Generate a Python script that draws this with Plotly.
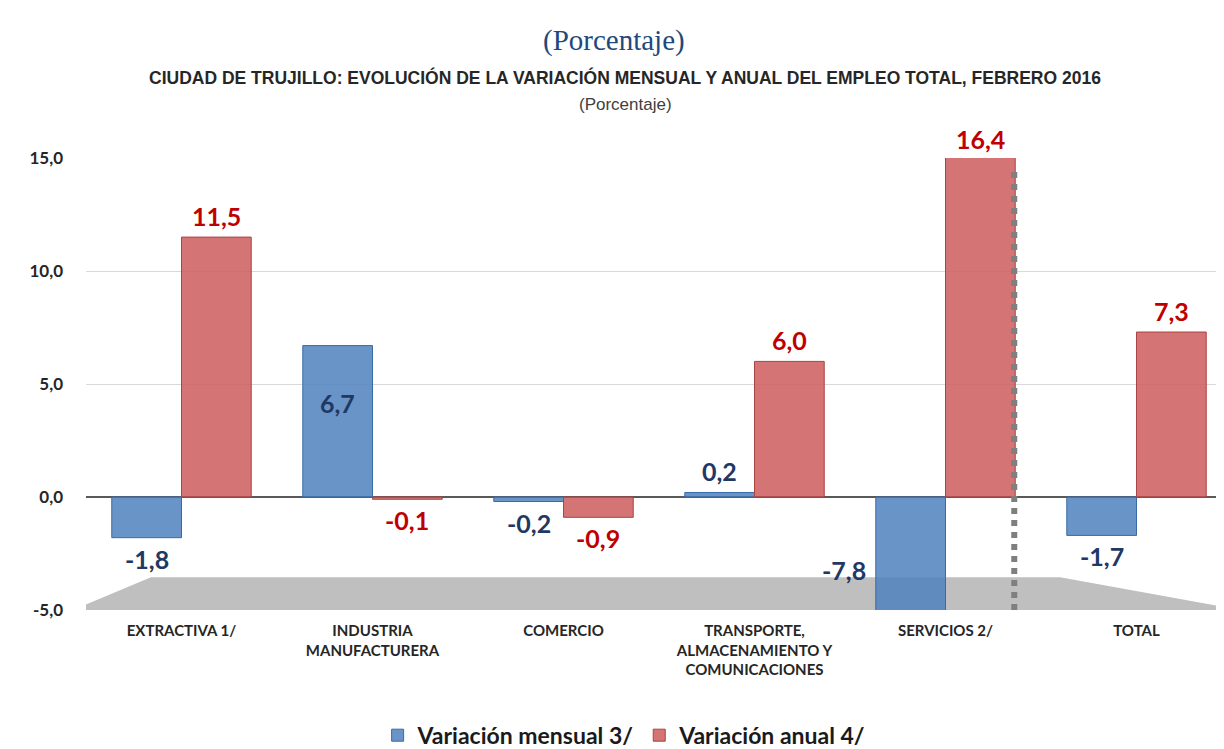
import plotly.graph_objects as go

categories = ["EXTRACTIVA 1/", "INDUSTRIA<br>MANUFACTURERA", "COMERCIO",
              "TRANSPORTE,<br>ALMACENAMIENTO Y<br>COMUNICACIONES", "SERVICIOS 2/", "TOTAL"]
mensual = [-1.8, 6.7, -0.2, 0.2, -7.8, -1.7]
anual = [11.5, -0.1, -0.9, 6.0, 16.4, 7.3]
y_ticks = [-5, 0, 5, 10, 15]

Y_MIN, Y_MAX = -5, 15
BARGAP = 0.27


def fmt(v):
    return f"{v:.1f}".replace(".", ",")


x = list(range(len(categories)))
half = (1 - BARGAP) / 4  # centre offset of each bar in a group of two

fig = go.Figure()
fig.add_trace(go.Bar(
    x=x, y=mensual, name="Variación mensual 3/",
    marker=dict(color="rgba(79,129,189,0.85)", line=dict(color="#3A6AA5", width=1)),
))
fig.add_trace(go.Bar(
    x=x, y=anual, name="Variación anual 4/",
    marker=dict(color="rgba(205,92,92,0.85)", line=dict(color="#A94442", width=1)),
))


def add_labels(values, offset, color, inside_idx=()):
    font = dict(color=color, size=25, family="Lato", weight="bold")
    for i, v in enumerate(values):
        a = dict(text=fmt(v), xref="x", yref="y", showarrow=False, font=font,
                 x=i + offset, xanchor="center")
        if v > Y_MAX:
            a.update(y=Y_MAX, yanchor="bottom", yshift=2)
        elif v < Y_MIN:
            a.update(x=i + offset - half, xanchor="right", xshift=-8,
                     y=Y_MIN * 0.65, yanchor="middle")
        elif i in inside_idx:
            a.update(y=v, yanchor="top", yshift=-40)
        elif v >= 0:
            a.update(y=v, yanchor="bottom", yshift=4)
        else:
            a.update(y=v, yanchor="top", yshift=-4)
        fig.add_annotation(**a)


add_labels(mensual, -half, "#1F3864", inside_idx=(1,))
add_labels(anual, half, "#C00000")

# gray floor at the bottom of the plot
fig.add_shape(type="path", xref="x", yref="y",
              path="M -0.57 -5 L -0.16 -3.55 L 4.6 -3.55 L 5.55 -5 Z",
              fillcolor="#BFBFBF", line=dict(width=0), layer="below")
# dotted separator before TOTAL
fig.add_shape(type="line", xref="x", yref="y", x0=4.36, x1=4.36, y0=-5, y1=14.6,
              line=dict(color="#7F7F7F", width=6, dash="dot"))

fig.update_layout(
    width=1224, height=749,
    margin=dict(l=78, r=0, t=150, b=137),
    paper_bgcolor="white", plot_bgcolor="white",
    separators=",.",
    barmode="group", bargap=BARGAP, bargroupgap=0.0,
    showlegend=True,
    legend=dict(orientation="h", x=0.47, xanchor="center", y=-(740 - 612) / 462, yanchor="middle",
                font=dict(family="Lato", size=23, color="#1a1a1a", weight="bold"),
                itemwidth=30, traceorder="normal"),
    xaxis=dict(range=[-0.5, 5.5], tickmode="array", tickvals=x, ticktext=categories,
               showgrid=False, zeroline=False, showline=False, ticks="",
               ticklabelstandoff=10,
               tickfont=dict(family="Lato", size=15, color="#262626", weight="bold")),
    yaxis=dict(range=[Y_MIN, Y_MAX], tickmode="array", tickvals=y_ticks,
               ticktext=[fmt(v) for v in y_ticks],
               showgrid=True, gridcolor="#D9D9D9", gridwidth=1,
               zeroline=True, zerolinecolor="#595959", zerolinewidth=2,
               showline=False, ticks="", ticklabelstandoff=22,
               tickfont=dict(family="Lato", size=17, color="#262626", weight="bold")),
)

fig.add_annotation(text="(Porcentaje)", xref="paper", yref="paper", x=(606 - 78) / 1146,
                   y=1 + (150 - 30) / 462, yanchor="middle", showarrow=False,
                   font=dict(family="Liberation Serif", size=29, color="#1F497D"))
fig.add_annotation(text="CIUDAD DE TRUJILLO: EVOLUCIÓN DE LA VARIACIÓN MENSUAL Y ANUAL DEL EMPLEO TOTAL, FEBRERO 2016",
                   xref="paper", yref="paper", x=(617 - 78) / 1146, y=1 + (150 - 68) / 462,
                   yanchor="middle", showarrow=False,
                   font=dict(family="Liberation Sans", size=17.5, color="#262626", weight="bold"))
fig.add_annotation(text="(Porcentaje)", xref="paper", yref="paper", x=(617 - 78) / 1146,
                   y=1 + (150 - 95) / 462, yanchor="middle", showarrow=False,
                   font=dict(family="Liberation Sans", size=17, color="#404040"))

fig.write_html("out.html")
